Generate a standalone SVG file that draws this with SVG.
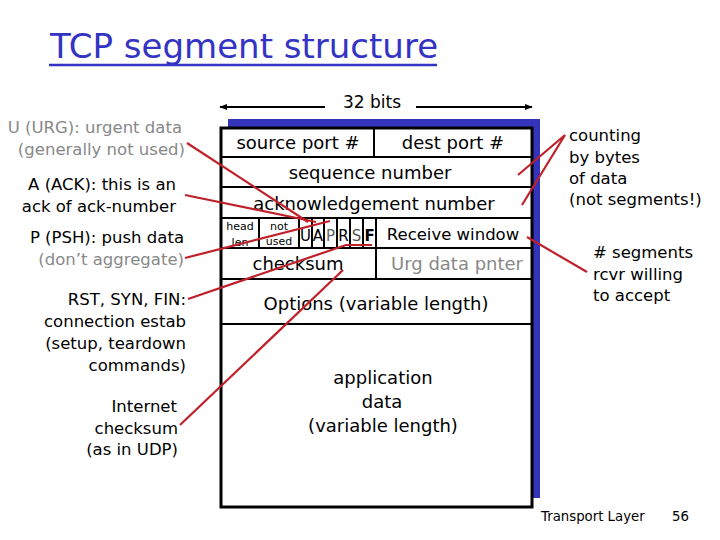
<svg xmlns="http://www.w3.org/2000/svg" width="720" height="540" viewBox="0 0 720 540">
<defs>
<style>
text{font-family:"DejaVu Sans","Liberation Sans",sans-serif;fill:#000}
.f{font-size:18px;text-anchor:middle}
.l{font-size:16.5px;text-anchor:end}
.r{font-size:16.5px}
.g{fill:#888}
.sm{font-size:11px;text-anchor:middle}
.fl{font-size:15px;text-anchor:middle}
.ln{stroke:#000;stroke-width:2}
.red{stroke:#c0202a;stroke-width:2.2;fill:none}
</style>
<marker id="ah" viewBox="0 0 10 10" refX="9" refY="5" markerWidth="8" markerHeight="8" orient="auto-start-reverse" markerUnits="userSpaceOnUse">
<path d="M0,1 L10,5 L0,9 z" fill="#000"/>
</marker>
</defs>
<rect width="720" height="540" fill="#fff"/>
<g id="title">
<text x="50" y="58" style="font-size:34px;fill:#3333c4">TCP segment structure</text>
<line x1="49" y1="65" x2="437" y2="65" stroke="#3333c4" stroke-width="2.5"/>
</g>
<g id="bits">
<text x="372" y="108" style="font-size:17px;text-anchor:middle">32 bits</text>
<line x1="325" y1="107" x2="220" y2="107" stroke="#000" stroke-width="2" marker-end="url(#ah)"/>
<line x1="416" y1="107" x2="532" y2="107" stroke="#000" stroke-width="2" marker-end="url(#ah)"/>
</g>
<g id="segment">
<rect x="228" y="119" width="312" height="379" fill="#3333bb"/>
<rect x="221" y="128" width="311" height="379" fill="#fff" stroke="#000" stroke-width="3"/>
<line class="ln" x1="221" y1="157" x2="532" y2="157"/>
<line class="ln" x1="221" y1="187" x2="532" y2="187"/>
<line class="ln" x1="221" y1="218" x2="532" y2="218"/>
<line class="ln" x1="221" y1="248" x2="532" y2="248"/>
<line class="ln" x1="221" y1="279" x2="532" y2="279"/>
<line class="ln" x1="221" y1="324" x2="532" y2="324"/>
<line class="ln" x1="374" y1="128" x2="374" y2="157"/>
<line class="ln" x1="376" y1="218" x2="376" y2="279"/>
<line class="ln" x1="259" y1="218" x2="259" y2="248"/>
<line class="ln" x1="299" y1="218" x2="299" y2="248"/>
<line class="ln" x1="312" y1="218" x2="312" y2="248"/>
<line class="ln" x1="324" y1="218" x2="324" y2="248"/>
<line class="ln" x1="337" y1="218" x2="337" y2="248"/>
<line class="ln" x1="350" y1="218" x2="350" y2="248"/>
<line class="ln" x1="363" y1="218" x2="363" y2="248"/>
<text class="f" x="298" y="149">source port #</text>
<text class="f" x="453" y="149">dest port #</text>
<text class="f" x="370" y="179">sequence number</text>
<text class="f" x="374" y="210">acknowledgement number</text>
<text class="sm" x="240" y="230">head</text>
<text class="sm" x="240" y="246">len</text>
<text class="sm" x="279" y="230">not</text>
<text class="sm" x="279" y="245">used</text>
<text class="fl" x="305.5" y="241">U</text>
<text class="fl" x="318" y="241">A</text>
<text class="fl" x="330.5" y="241" style="fill:#666">P</text>
<text class="fl" x="343.5" y="241">R</text>
<text class="fl" x="356.5" y="241" style="fill:#555">S</text>
<text class="fl" x="369.5" y="241" style="font-weight:bold">F</text>
<text class="f" x="453" y="240" style="font-size:16.5px">Receive window</text>
<text class="f" x="298" y="270">checksum</text>
<text class="f g" x="457" y="270">Urg data pnter</text>
<text class="f" x="376" y="310">Options (variable length)</text>
<text class="f" x="383" y="384">application</text>
<text class="f" x="382" y="408">data</text>
<text class="f" x="383" y="432">(variable length)</text>
</g>
<g id="labels-left">
<text class="l g" x="182" y="133">U (URG): urgent data</text>
<text class="l g" x="185" y="155">(generally not used)</text>
<text class="l" x="176" y="190">A (ACK): this is an</text>
<text class="l" x="176" y="212">ack of ack-number</text>
<text class="l" x="184" y="243">P (PSH): push data</text>
<text class="l g" x="184" y="265">(don’t aggregate)</text>
<text class="l" x="186" y="305">RST, SYN, FIN:</text>
<text class="l" x="186" y="327">connection estab</text>
<text class="l" x="186" y="349">(setup, teardown</text>
<text class="l" x="186" y="371">commands)</text>
<text class="l" x="177" y="412">Internet</text>
<text class="l" x="178" y="434">checksum</text>
<text class="l" x="178" y="455">(as in UDP)</text>
</g>
<g id="labels-right">
<text class="r" x="569" y="141">counting</text>
<text class="r" x="569" y="163">by bytes</text>
<text class="r" x="569" y="184">of data</text>
<text class="r" x="569" y="205">(not segments!)</text>
<text class="r" x="593" y="258"># segments</text>
<text class="r" x="593" y="280">rcvr willing</text>
<text class="r" x="593" y="301">to accept</text>
</g>
<g id="connectors">
<line class="red" x1="187" y1="143" x2="308" y2="222"/>
<line class="red" x1="185" y1="195" x2="316" y2="222"/>
<line class="red" x1="185" y1="258" x2="330" y2="221"/>
<polyline class="red" points="188,299 346,245 372,245"/>
<line class="red" x1="180" y1="425" x2="343" y2="270"/>
<polyline class="red" points="518,175 565,135 522,205"/>
<line class="red" x1="527" y1="237" x2="587" y2="272"/>
</g>
<g id="footer">
<text x="541" y="521" style="font-size:13.3px">Transport Layer</text>
<text x="672" y="521" style="font-size:13.3px">56</text>
</g>
</svg>
